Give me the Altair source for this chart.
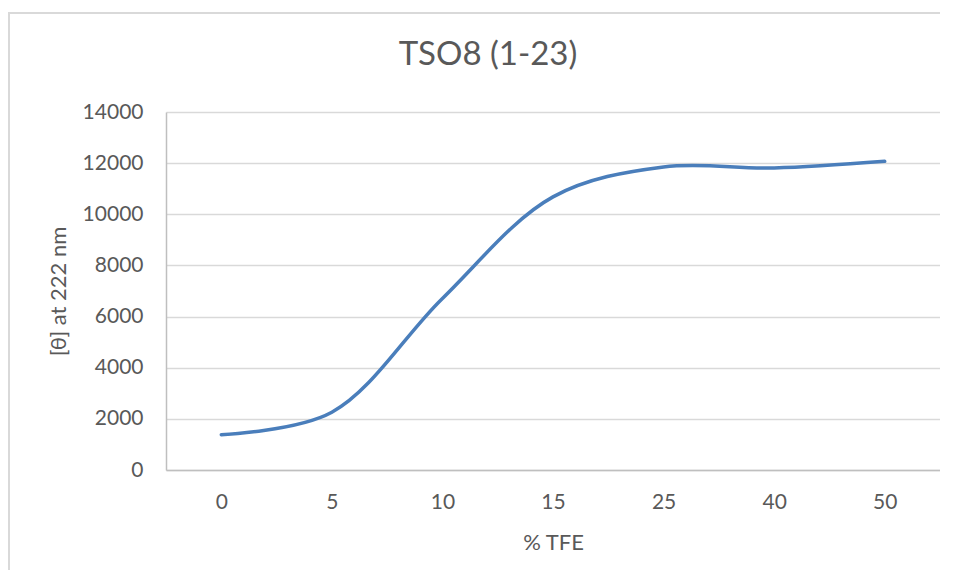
import altair as alt
import pandas as pd

categories = ["0", "5", "10", "15", "25", "40", "50"]
values = [1380, 2260, 6710, 10680, 11850, 11810, 12070]

df = pd.DataFrame({"tfe": categories, "theta": values})

W, H = 774, 358
TEXT = "#595959"
FONT = "Lato"
BORDER = "#D9D9D9"

frame_left = alt.Chart(df).mark_rule(color=BORDER, strokeWidth=2).encode(
    x=alt.value(-157), y=alt.value(-99), y2=alt.value(H + 140)
)
frame_top = alt.Chart(df).mark_rule(color=BORDER, strokeWidth=2).encode(
    x=alt.value(-158), x2=alt.value(W + 200), y=alt.value(-99)
)

line = alt.Chart(df).mark_line(
    color="#4A7EBB", strokeWidth=3.5, interpolate="catmull-rom", strokeCap="round"
).encode(
    x=alt.X("tfe:N", sort=categories,
            scale=alt.Scale(type="point", padding=0.5),
            axis=alt.Axis(title="% TFE", labelAngle=0, ticks=False,
                          domainColor="#BFBFBF", domainWidth=1.5,
                          labelPadding=21, titlePadding=20)),
    y=alt.Y("theta:Q",
            scale=alt.Scale(domain=[0, 14000], nice=False),
            axis=alt.Axis(title="[θ] at 222 nm", values=list(range(0, 14001, 2000)),
                          format="d",
                          ticks=False, domainColor="#BFBFBF", domainWidth=1.5,
                          gridColor="#D9D9D9", gridWidth=1.3,
                          labelPadding=23, titlePadding=12)),
)

chart = alt.layer(frame_left, frame_top, line).properties(
    width=W, height=H,
    title=alt.TitleParams("TSO8 (1-23)", anchor="middle", frame="group", dx=-65,
                          offset=-60, fontSize=33, font=FONT, fontWeight="normal", color=TEXT),
    autosize=alt.AutoSizeParams(type="none"),
    padding={"left": 158, "top": 104, "right": 0, "bottom": 100},
).configure_view(stroke=None).configure_axis(
    labelFont=FONT, labelFontSize=21, labelColor=TEXT,
    titleFont=FONT, titleFontSize=22, titleColor=TEXT, titleFontWeight="normal",
).configure_axisX(grid=False)

chart.save("out.html", embed_options={"renderer": "svg", "actions": False})
